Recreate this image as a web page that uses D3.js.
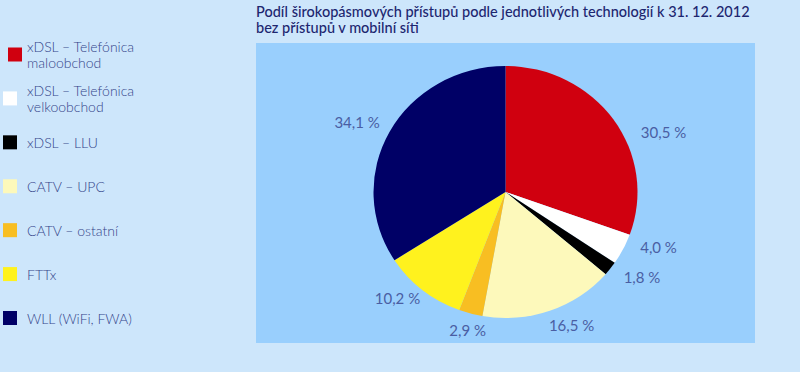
<!DOCTYPE html>
<html><head><meta charset="utf-8">
<script src="https://cdn.jsdelivr.net/npm/d3@7"></script>
<style>
html,body{margin:0;padding:0;background:#cde6fb;}
svg{display:block;}
</style></head>
<body>
<svg id="chart" width="800" height="372"></svg>
<script>
// ---- data ----
const categories = ["xDSL – Telefónica maloobchod","xDSL – Telefónica velkoobchod","xDSL – LLU","CATV – UPC","CATV – ostatní","FTTx","WLL (WiFi, FWA)"];
const legendLines = [["xDSL – Telefónica","maloobchod"],["xDSL – Telefónica","velkoobchod"],["xDSL – LLU"],["CATV – UPC"],["CATV – ostatní"],["FTTx"],["WLL (WiFi, FWA)"]];
const shares = [30.5, 4.0, 1.8, 16.5, 2.9, 10.2, 34.1];
const shareLabels = ["30,5 %","4,0 %","1,8 %","16,5 %","2,9 %","10,2 %","34,1 %"];
const colors = ["#d0000f","#ffffff","#000000","#fdf9bb","#f8be22","#fff21e","#000066"];
const titleLines = ["Podíl širokopásmových přístupů podle jednotlivých technologií k 31. 12. 2012","bez přístupů v mobilní síti"];

// ---- layout ----
const svg = d3.select("#chart");
const panel = {x:256, y:43, w:499, h:300};
const cx = 505.5, cy = 192, R = 132, yScale = 126/132;
// label placement tweaks (angle nudge in degrees, radius)
const labelNudge = [13.5, -6.4, -4.3, -5.8, -0.6, 5.3, -2.3];
const labelRad = [170, 163.5, 163, 154, 149, 155, 165.6];

svg.append("rect").attr("x",panel.x).attr("y",panel.y).attr("width",panel.w).attr("height",panel.h).attr("fill","#99cffd");

// title
svg.append("g").selectAll("text").data(titleLines).join("text")
  .attr("x",256).attr("y",(d,i)=>17+i*16)
  .attr("font-family","Lato, 'Noto Sans', sans-serif").attr("font-size",14.5).attr("font-weight",500)
  .attr("fill","#1d2670")
  .text(d=>d);

// pie
const pie = d3.pie().sort(null).value(d=>d).startAngle(0).endAngle(2*Math.PI);
const arcs = pie(shares);
const arc = d3.arc().innerRadius(0).outerRadius(R);
const g = svg.append("g").attr("transform",`translate(${cx},${cy}) scale(1,${yScale})`);
g.selectAll("path").data(arcs).join("path")
  .attr("d",arc).attr("fill",(d,i)=>colors[i]);

// labels
svg.append("g").selectAll("text").data(arcs).join("text")
  .attr("x",(d,i)=>{const a=(d.startAngle+d.endAngle)/2+labelNudge[i]*Math.PI/180; return cx+labelRad[i]*Math.sin(a);})
  .attr("y",(d,i)=>{const a=(d.startAngle+d.endAngle)/2+labelNudge[i]*Math.PI/180; return cy-labelRad[i]*Math.cos(a)*yScale;})
  .attr("text-anchor","middle").attr("dominant-baseline","central")
  .attr("font-family","Lato, 'Noto Sans', sans-serif").attr("font-size",15).attr("font-weight",400)
  .attr("fill","#4a5ea3")
  .text((d,i)=>shareLabels[i]);

// legend
const lg = svg.append("g");
const itemY = d3.scaleLinear().domain([0,6]).range([54.5,318]);
const items = lg.selectAll("g").data(categories).join("g")
  .attr("transform",(d,i)=>`translate(0,${itemY(i)})`);
items.append("rect").attr("x",(d,i)=>i===0?8:3).attr("y",-7).attr("width",14).attr("height",14)
  .attr("fill",(d,i)=>colors[i]);
items.each(function(d,i){
  const lines = legendLines[i];
  const t = d3.select(this).append("text")
    .attr("font-family","Lato, 'Noto Sans', sans-serif").attr("font-size",14).attr("font-weight",300)
    .attr("fill","#34458a");
  lines.forEach((ln,j)=>{
    t.append("tspan").attr("x",27).attr("y",(j-(lines.length-1)/2)*16).attr("dominant-baseline","central").text(ln);
  });
});
</script>
</body></html>
